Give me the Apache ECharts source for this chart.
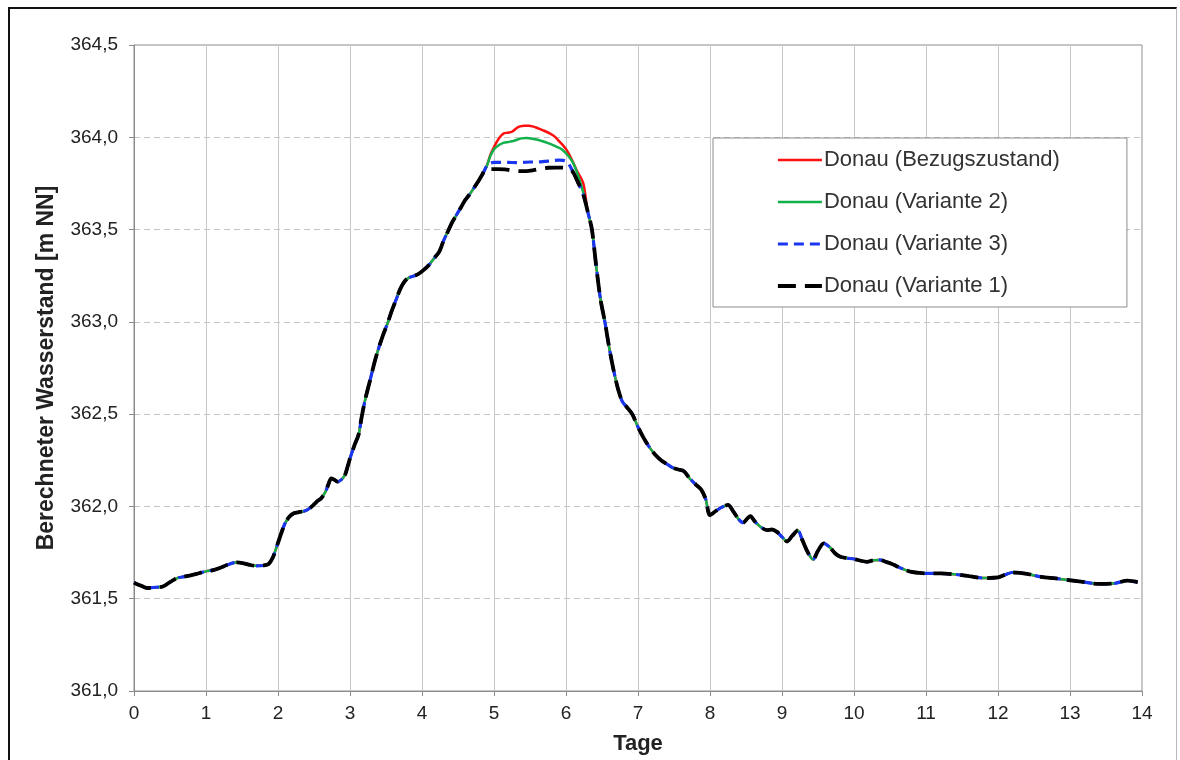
<!DOCTYPE html>
<html>
<head>
<meta charset="utf-8">
<title>Donau – Berechneter Wasserstand</title>
<script src="https://cdn.jsdelivr.net/npm/echarts@6/dist/echarts.min.js"></script>
<style>
  html, body { margin: 0; padding: 0; background: #fff; }
  #wrap { position: relative; width: 1180px; height: 760px; overflow: hidden; }
  #chart { position: absolute; left: 0; top: 0; width: 1180px; height: 760px; }
  #frame {
    position: absolute; left: 8px; top: 7px; right: 3px; bottom: -5px;
    border-top: 2px solid #111; border-left: 2px solid #111; border-right: 1px solid #bbb;
    pointer-events: none;
  }
</style>
</head>
<body>
<div id="wrap"><div id="chart"></div><div id="frame"></div></div>
<script>
// Rising limb, identical for all four runs (days, m NN)
const daysRise = [0.00, 0.10, 0.18, 0.30, 0.40, 0.50, 0.60, 0.70, 0.80, 0.90, 1.00, 1.10, 1.20, 1.30, 1.43, 1.52, 1.61, 1.70, 1.80, 1.87, 1.93, 1.98,
  2.05, 2.10, 2.16, 2.22, 2.30, 2.38, 2.44, 2.49, 2.55, 2.60, 2.66, 2.70, 2.74, 2.78, 2.83, 2.88, 2.93, 2.97,
  3.00, 3.06, 3.12, 3.16, 3.21, 3.28, 3.34, 3.40, 3.46, 3.52, 3.58, 3.64, 3.70, 3.76, 3.82, 3.90, 3.96,
  4.02, 4.10, 4.18, 4.24, 4.30, 4.36, 4.42, 4.48, 4.54, 4.60, 4.66, 4.72, 4.78, 4.84];
const levelRise = [361.587, 361.570, 361.558, 361.562, 361.566, 361.590, 361.612, 361.620, 361.628, 361.638, 361.648, 361.655, 361.668, 361.684, 361.697, 361.692, 361.683, 361.678, 361.680, 361.688, 361.725, 361.780,
  361.860, 361.910, 361.945, 361.963, 361.970, 361.976, 361.990, 362.007, 362.030, 362.044, 362.080, 362.120, 362.152, 362.145, 362.134, 362.145, 362.170, 362.220,
  362.260, 362.330, 362.390, 362.480, 362.577, 362.685, 362.780, 362.860, 362.930, 362.990, 363.060, 363.120, 363.180, 363.220, 363.240, 363.250, 363.262,
  363.280, 363.310, 363.350, 363.380, 363.440, 363.490, 363.540, 363.580, 363.620, 363.660, 363.690, 363.725, 363.760, 363.800];

// Crest, where the runs differ
const daysPeakBezug = [4.90, 4.95, 5.01, 5.07, 5.13, 5.19, 5.25, 5.34, 5.41, 5.48, 5.55, 5.61, 5.68, 5.78, 5.84, 5.89, 5.95, 6.01, 6.08, 6.15, 6.24];
const peakBezug = [363.845, 363.905, 363.955, 363.995, 364.020, 364.025, 364.030, 364.057, 364.062, 364.063, 364.058, 364.049, 364.038, 364.020, 364.005, 363.985, 363.960, 363.930, 363.880, 363.820, 363.750];

const daysPeakV2 = [4.90, 4.95, 5.01, 5.07, 5.13, 5.20, 5.27, 5.38, 5.45, 5.52, 5.59, 5.66, 5.74, 5.82, 5.88, 5.94, 6.03, 6.10, 6.17, 6.24];
const peakV2 = [363.845, 363.900, 363.940, 363.958, 363.970, 363.975, 363.980, 363.994, 363.996, 363.994, 363.988, 363.980, 363.970, 363.958, 363.947, 363.935, 363.900, 363.860, 363.790, 363.700];

const daysPeakV3 = [4.90, 4.95, 5.00, 5.10, 5.20, 5.30, 5.40, 5.50, 5.60, 5.70, 5.80, 5.90, 5.96, 6.02, 6.10, 6.17, 6.24];
const peakV3 = [363.845, 363.860, 363.864, 363.864, 363.864, 363.863, 363.864, 363.866, 363.866, 363.869, 363.873, 363.876, 363.875, 363.866, 363.810, 363.750, 363.690];

const daysPeakV1 = [4.88, 4.95, 5.05, 5.15, 5.25, 5.35, 5.45, 5.55, 5.65, 5.75, 5.85, 5.95, 6.03, 6.09, 6.15, 6.24];
const peakV1 = [363.825, 363.828, 363.828, 363.826, 363.820, 363.817, 363.817, 363.822, 363.830, 363.835, 363.836, 363.836, 363.830, 363.815, 363.770, 363.690];

// Falling limb, identical for all four runs
const daysFall = [6.30, 6.36, 6.42, 6.48, 6.54, 6.60, 6.66, 6.72, 6.78, 6.84, 6.92, 7.00, 7.08, 7.16, 7.24, 7.32, 7.40, 7.48, 7.56, 7.64, 7.72, 7.80, 7.88, 7.94,
  8.00, 8.08, 8.16, 8.25, 8.32, 8.40, 8.46, 8.52, 8.56, 8.62, 8.70, 8.79, 8.86, 8.93, 9.00, 9.07, 9.14, 9.22, 9.28, 9.36, 9.43, 9.50, 9.58, 9.66, 9.74, 9.81, 9.90,
  10.00, 10.10, 10.18, 10.27, 10.36, 10.44, 10.52, 10.60, 10.70, 10.80, 10.90, 11.00, 11.20, 11.40, 11.60, 11.80, 12.00, 12.10, 12.20, 12.30, 12.40, 12.60, 12.80,
  13.00, 13.20, 13.40, 13.60, 13.80, 13.94];
const levelFall = [363.600, 363.500, 363.300, 363.120, 363.000, 362.860, 362.740, 362.640, 362.570, 362.540, 362.500, 362.430, 362.370, 362.320, 362.280, 362.250, 362.230, 362.210, 362.200, 362.190, 362.150, 362.120, 362.090, 362.040,
  361.953, 361.975, 361.995, 362.008, 361.975, 361.930, 361.912, 361.935, 361.948, 361.920, 361.890, 361.872, 361.875, 361.862, 361.835, 361.810, 361.840, 361.870, 361.820, 361.750, 361.712, 361.760, 361.800, 361.780, 361.745, 361.727, 361.720,
  361.715, 361.705, 361.700, 361.708, 361.710, 361.700, 361.690, 361.675, 361.658, 361.645, 361.640, 361.637, 361.637, 361.632, 361.622, 361.612, 361.615, 361.630, 361.642, 361.640, 361.635, 361.618, 361.610,
  361.600, 361.590, 361.580, 361.582, 361.598, 361.590];

const seriesNames = ['Donau (Bezugszustand)', 'Donau (Variante 2)', 'Donau (Variante 3)', 'Donau (Variante 1)'];

function pairs(days, levels) {
  return days.map((d, i) => [d, levels[i]]);
}
function hydrograph(peakDays, peakLevels) {
  return pairs(daysRise, levelRise).concat(pairs(peakDays, peakLevels), pairs(daysFall, levelFall));
}

const FONT = 'Arial, "Liberation Sans", sans-serif';
const chart = echarts.init(document.getElementById('chart'), null, { renderer: 'canvas' });

// Line look per run: colour, width, dash pattern
const styles = [
  { color: '#ff1010', width: 2.5, type: 'solid' },
  { color: '#10b04a', width: 2.5, type: 'solid' },
  { color: '#1a36f0', width: 3.2, type: [10, 6] },
  { color: '#000000', width: 3.8, type: [18, 9] }
];

function lineSeries(i, data) {
  const s = styles[i];
  return {
    name: seriesNames[i],
    type: 'line',
    data: data,
    symbol: 'none',
    smooth: 0.3,
    lineStyle: { color: s.color, width: s.width, type: s.type, cap: 'butt' },
    itemStyle: { color: s.color },
    emphasis: { disabled: true }
  };
}

chart.setOption({
  animation: false,
  backgroundColor: '#fff',
  grid: {
    left: 134, right: 38, top: 45, bottom: 69,
    show: true, borderColor: '#8c8c8c', borderWidth: 1, backgroundColor: 'transparent'
  },
  legend: {
    orient: 'vertical',
    left: 713, top: 138,
    padding: [11, 67, 10, 63],
    itemGap: 20, itemWidth: 44, itemHeight: 14,
    backgroundColor: '#fff', borderColor: '#8c8c8c', borderWidth: 1,
    textStyle: { fontFamily: FONT, fontSize: 22, color: '#333', padding: [0, 0, 0, -3] },
    data: seriesNames.map((n, i) => ({
      name: n,
      itemStyle: { opacity: 0 },
      lineStyle: { color: styles[i].color, width: styles[i].width, type: styles[i].type }
    }))
  },
  xAxis: {
    type: 'value', min: 0, max: 14, interval: 1,
    name: 'Tage', nameLocation: 'middle', nameGap: 42,
    nameTextStyle: { fontFamily: FONT, fontSize: 22, fontWeight: 'bold', color: '#222' },
    axisLine: { show: true, lineStyle: { color: '#8c8c8c', width: 1 } },
    axisTick: { show: true, length: 5, lineStyle: { color: '#8c8c8c' } },
    axisLabel: { fontFamily: FONT, fontSize: 19, color: '#222', margin: 13 },
    splitLine: { show: true, lineStyle: { color: '#c8c8c8', width: 1 } }
  },
  yAxis: {
    type: 'value', min: 361, max: 364.5, interval: 0.5,
    name: 'Berechneter Wasserstand [m NN]', nameLocation: 'middle', nameGap: 76, nameRotate: 90,
    nameTextStyle: { fontFamily: FONT, fontSize: 23, fontWeight: 'bold', color: '#222' },
    axisLine: { show: true, lineStyle: { color: '#8c8c8c', width: 1 } },
    axisTick: { show: true, length: 5, lineStyle: { color: '#8c8c8c' } },
    axisLabel: {
      fontFamily: FONT, fontSize: 19, color: '#222', margin: 16,
      formatter: v => v.toFixed(1).replace('.', ',')
    },
    splitLine: { show: true, lineStyle: { color: '#c4c4c4', width: 1, type: [6, 4] } }
  },
  series: [
    lineSeries(0, hydrograph(daysPeakBezug, peakBezug)),
    lineSeries(1, hydrograph(daysPeakV2, peakV2)),
    lineSeries(2, hydrograph(daysPeakV3, peakV3)),
    lineSeries(3, hydrograph(daysPeakV1, peakV1))
  ]
});
</script>
</body>
</html>
